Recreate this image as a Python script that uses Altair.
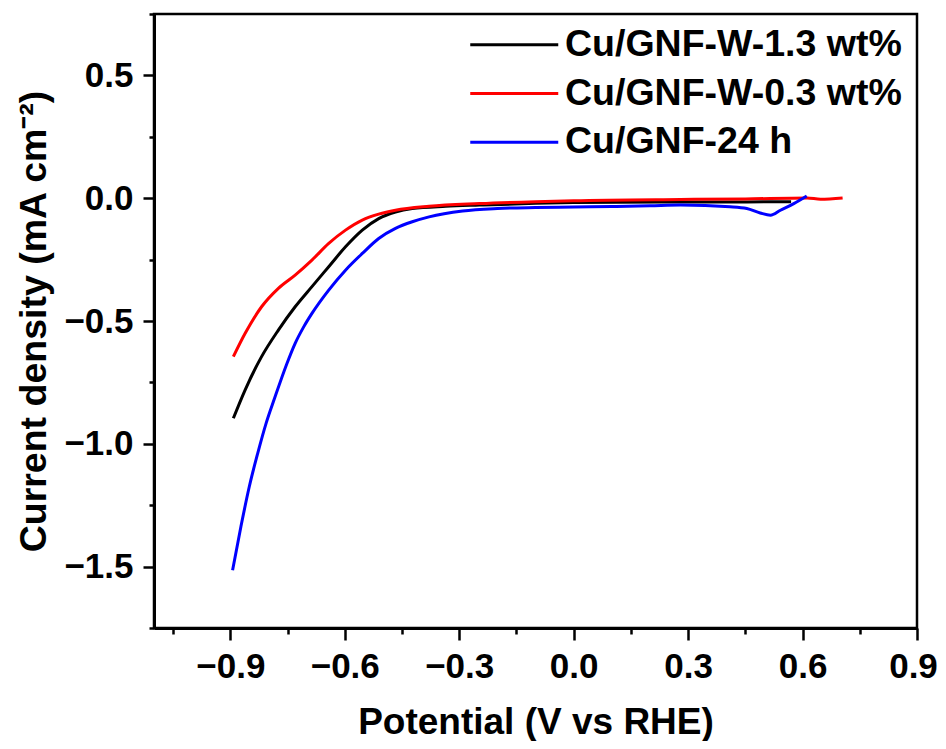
import altair as alt
import pandas as pd

series_names = ["Cu/GNF-W-1.3 wt%", "Cu/GNF-W-0.3 wt%", "Cu/GNF-24 h"]
series_colors = ["#000000", "#ff0000", "#0000ff"]

black_x = [-0.892, -0.861, -0.818, -0.774, -0.730, -0.686, -0.642, -0.598, -0.554, -0.511,
           -0.467, -0.423, -0.335, -0.247, -0.1, 0.0, 0.28, 0.45, 0.57]
black_y = [-0.896, -0.780, -0.645, -0.537, -0.442, -0.360, -0.279, -0.198, -0.130, -0.083,
           -0.056, -0.042, -0.033, -0.028, -0.021, -0.018, -0.015, -0.015, -0.014]

red_x = [-0.892, -0.861, -0.818, -0.774, -0.730, -0.686, -0.642, -0.598, -0.554, -0.511,
         -0.467, -0.379, -0.247, -0.1, 0.0, 0.28, 0.45, 0.612, 0.647, 0.705]
red_y = [-0.645, -0.550, -0.442, -0.367, -0.313, -0.252, -0.184, -0.130, -0.089, -0.065,
         -0.049, -0.033, -0.022, -0.014, -0.010, -0.005, -0.003, 0.001, -0.004, 0.001]

blue_x = [-0.894, -0.872, -0.850, -0.828, -0.806, -0.784, -0.752, -0.730, -0.708, -0.686,
          -0.642, -0.598, -0.554, -0.511, -0.467, -0.423, -0.379, -0.291, -0.2, -0.1,
          0.0, 0.1, 0.2, 0.28, 0.41, 0.454, 0.489, 0.516, 0.542, 0.577, 0.611]
blue_y = [-1.515, -1.336, -1.173, -1.038, -0.916, -0.815, -0.675, -0.591, -0.525, -0.469,
          -0.374, -0.293, -0.225, -0.164, -0.123, -0.096, -0.076, -0.052, -0.042, -0.038,
          -0.036, -0.034, -0.031, -0.028, -0.035, -0.042, -0.060, -0.069, -0.049, -0.022, 0.009]

x_ticks = [-1.05, -0.9, -0.75, -0.6, -0.45, -0.3, -0.15, 0.0, 0.15, 0.3, 0.45, 0.6, 0.75, 0.9]
y_ticks = [-1.75, -1.5, -1.25, -1.0, -0.75, -0.5, -0.25, 0.0, 0.25, 0.5, 0.75]

rows = []
for name, xs, ys in zip(series_names, [black_x, red_x, blue_x], [black_y, red_y, blue_y]):
    for i, (a, b) in enumerate(zip(xs, ys)):
        rows.append({"series": name, "x": a, "y": b, "i": i})
df = pd.DataFrame(rows)

FONT = "Liberation Sans"
x_major = "abs(datum.value/0.3 - round(datum.value/0.3)) < 0.001"
y_major = "abs(datum.value*2 - round(datum.value*2)) < 0.001"

x_axis = alt.Axis(
    values=x_ticks,
    labelExpr=f"{x_major} ? format(datum.value, '.1f') : ''",
    labelFont=FONT, labelFontWeight="bold", labelFontSize=35, labelColor="black",
    labelPadding=9, labelFlush=False, labelOverlap=False, labelBound=False,
    labelOffset={"condition": {"test": "datum.value > 0.85", "value": -4}, "value": 0},
    tickColor="black", tickWidth=2.5,
    tickSize={"condition": {"test": x_major, "value": 12}, "value": 6},
    domainColor="black", domainWidth=3, grid=False,
    title="Potential (V vs RHE)", titleFont=FONT, titleFontWeight="bold",
    titleFontSize=37, titleColor="black", titleX=381.5, titleY=105,
    titleBaseline="alphabetic", titleAlign="center", titleAnchor="middle",
)
y_axis = alt.Axis(
    values=y_ticks,
    labelExpr=f"{y_major} ? format(datum.value, '.1f') : ''",
    labelFont=FONT, labelFontWeight="bold", labelFontSize=35, labelColor="black",
    labelPadding=10, labelFlush=False, labelOverlap=False, labelBound=False,
    tickColor="black", tickWidth=2.5,
    tickSize={"condition": {"test": y_major, "value": 11}, "value": 5},
    domainColor="black", domainWidth=3, grid=False,
    title="Current density (mA cm⁻²)", titleFont=FONT, titleFontWeight="bold",
    titleFontSize=37.5, titleColor="black", titleX=-109, titleY=307,
    titleBaseline="alphabetic", titleAlign="center", titleAngle=270,
)

legend = alt.Legend(
    title=None, orient="none", legendX=315, legendY=12, padding=0,
    symbolType="M-4,0H4", symbolSize=484, symbolStrokeWidth=3, symbolOffset=26.5,
    labelOffset=32, labelFont=FONT, labelFontWeight="bold", labelFontSize=37.5,
    labelColor="black", rowPadding=9.8, labelLimit=500,
)

chart = alt.Chart(df).mark_line(strokeWidth=3, interpolate="monotone").encode(
    x=alt.X("x:Q", scale=alt.Scale(domain=[-1.1, 0.9], nice=False, zero=False), axis=x_axis),
    y=alt.Y("y:Q", scale=alt.Scale(domain=[-1.75, 0.75], nice=False, zero=False), axis=y_axis),
    color=alt.Color("series:N", scale=alt.Scale(domain=series_names, range=series_colors),
                    legend=legend),
    order="i:Q",
).properties(
    width=763, height=614,
    autosize=alt.AutoSizeParams(type="none"),
    padding={"left": 146, "top": 6, "right": 21, "bottom": 113},
).configure_view(stroke="black", strokeWidth=2.5)

chart.save("out.html", embed_options={"renderer": "svg", "actions": False})
